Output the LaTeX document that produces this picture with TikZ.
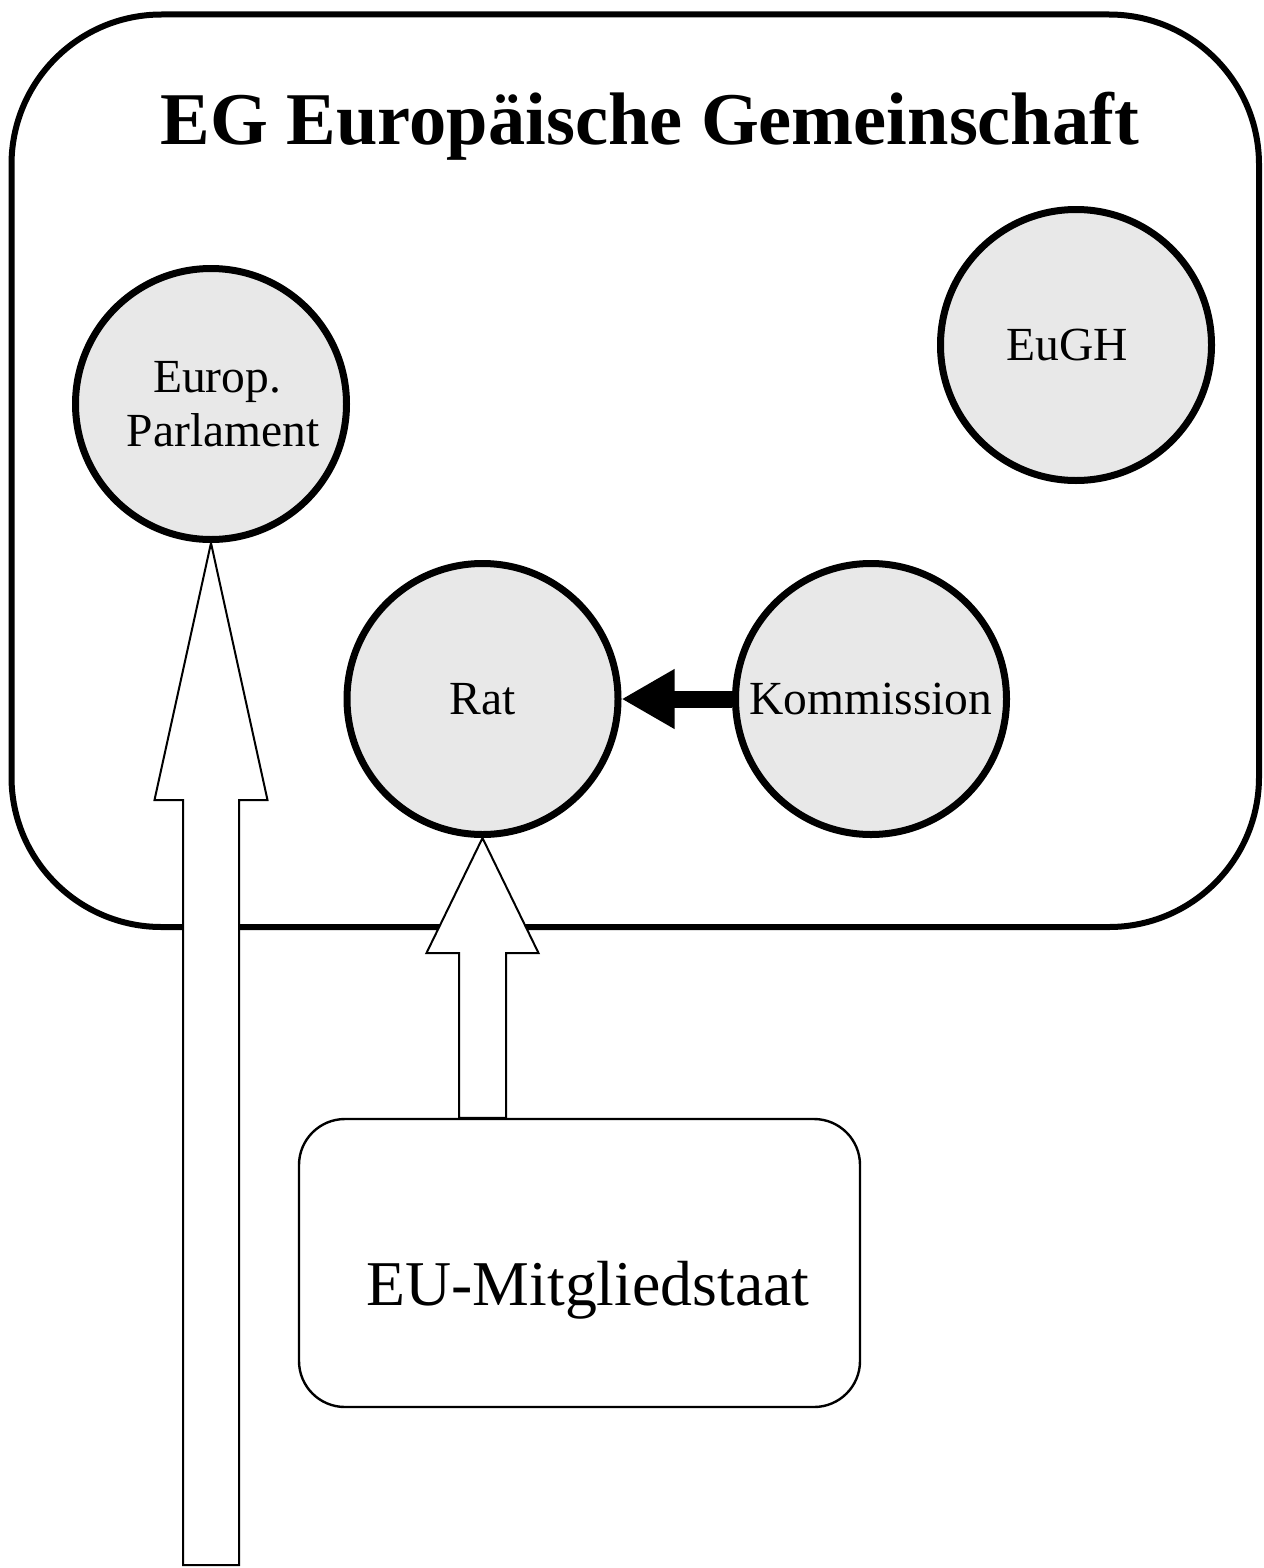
\documentclass[tikz,border=0pt]{standalone}
\usepackage{fontspec}
\setmainfont{Liberation Serif}
\usetikzlibrary{arrows.meta,calc}
\definecolor{circfill}{RGB}{232,232,232}
\begin{document}
\begin{tikzpicture}[x=0.5pt,y=-0.5pt,
  org/.style={circle, draw, line width=3.5pt, fill=circfill, minimum size=135.5pt,
    inner sep=0pt, font=\fontsize{23.75pt}{27pt}\selectfont, align=center},
  hollow/.style={draw, line width=1pt, fill=white, line join=miter},
  frame/.style={draw, line width=3pt, rounded corners=75pt},
  memberbox/.style={draw, line width=1.2pt, rounded corners=23pt, fill=white,
    minimum width=280.5pt, minimum height=144pt},
  proposal/.style={line width=8.5pt, -{Triangle[length=26.5pt,width=28pt]}}
]
\useasboundingbox (0,0) rectangle (1263,1568);
% container
\node[frame, minimum width=623.75pt, minimum height=456.25pt] (eg) at (635.25,470.75) {};
\node[font=\fontsize{37.2pt}{44pt}\selectfont\bfseries, anchor=base] (title) at (650,145) {EG Europäische Gemeinschaft};
% organs
\node[org] (parl) at (211,404) {\hspace*{6pt}Europ.\\\hspace*{12pt}Parlament};
\node[org] (eugh) at (1076,345) {\hspace*{-9pt}EuGH};
\node[org] (rat) at (482.5,699) {Rat};
\node[org] (komm) at (871,699) {Kommission};
% member state
\node[memberbox] (mit) at (579.5,1263) {};
\node[font=\fontsize{31.9pt}{36pt}\selectfont, anchor=base] (mittext) at (588,1305) {EU-Mitgliedstaat};
% Kommission -> Rat
\draw[proposal] (komm.west) -- (rat.east);
% Parlament arrow
\coordinate (pfoot) at (211,1565);
\draw[hollow] (parl.south) -- ($(parl.south)+(56.5,257)$) -- ($(parl.south)+(28,257)$)
  -- ($(pfoot)+(28,0)$) -- ($(pfoot)+(-28,0)$) -- ($(parl.south)+(-28,257)$)
  -- ($(parl.south)+(-56.5,257)$) -- cycle;
% Rat arrow
\draw[hollow] (rat.south) -- ($(rat.south)+(56,115)$) -- ($(rat.south)+(23.5,115)$)
  -- ($(rat.south |- mit.north)+(23.5,0)$) -- ($(rat.south |- mit.north)+(-23.5,0)$)
  -- ($(rat.south)+(-23.5,115)$) -- ($(rat.south)+(-56,115)$) -- cycle;
\end{tikzpicture}
\end{document}
